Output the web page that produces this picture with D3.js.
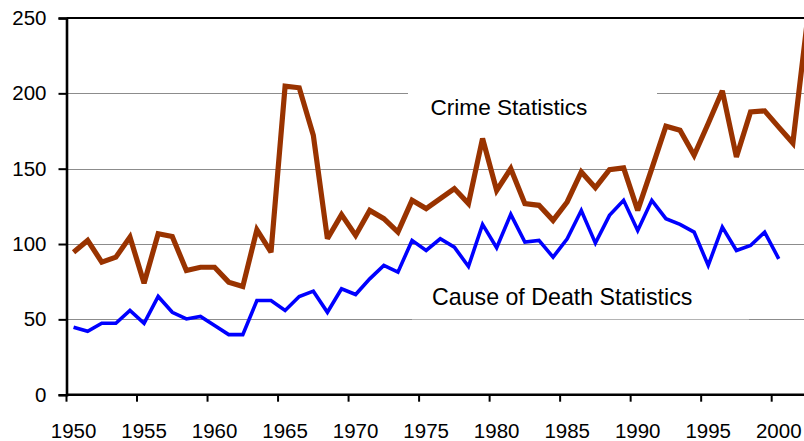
<!DOCTYPE html>
<html>
<head>
<meta charset="utf-8">
<script src="https://cdn.jsdelivr.net/npm/d3@7"></script>
<style>
  html, body { margin: 0; padding: 0; background: #fff; overflow: hidden; }
  svg { display: block; font-family: "Liberation Sans", Arial, sans-serif; }
</style>
</head>
<body>
<svg id="chart" width="804" height="441"></svg>
<script>
// ---- data ----
const crimeYears = d3.range(1950, 2003);
const crimeValues = [
  94.6, 102.4, 88, 91.3, 104.6, 74, 106.8, 105, 82.4, 84.6,
  84.6, 74.7, 71.8, 109.5, 94.6, 204.8, 203.7, 172.2, 103.5, 119.5,
  105.7, 122.3, 116.8, 107.9, 129, 123.5, 130.1, 136.8, 126.8, 170,
  135.6, 150, 126.8, 125.7, 115.7, 127.9, 147.8, 137.4, 149.4, 150.5,
  122.3, 150, 178.2, 175.5, 158.9, 180, 201.7, 157.8, 187.7, 188.4,
  177.6, 167, 246
];
const deathYears = d3.range(1950, 2001);
const deathValues = [
  44.8, 42.1, 47.4, 47.4, 55.9, 47.4, 65.2, 54.7, 50.3, 51.9,
  45.9, 39.9, 39.9, 62.5, 62.5, 55.9, 65.2, 68.7, 54.7, 70.3,
  66.5, 76.9, 85.8, 81.3, 102.4, 95.7, 103.5, 97.9, 85.1, 113,
  97.5, 119.7, 101.3, 102.4, 91.3, 103.5, 122.3, 100.6, 119, 129,
  109, 129, 116.8, 113, 107.9, 85.8, 111.2, 95.7, 99, 107.9,
  90.2
];
const yTicks = [0, 50, 100, 150, 200, 250];
const xTickLabels = [1950, 1955, 1960, 1965, 1970, 1975, 1980, 1985, 1990, 1995, 2000];
const seriesLabels = ["Crime Statistics", "Cause of Death Statistics"];

// ---- layout ----
const svg = d3.select("#chart");
const plotLeft = 66.5, plotRight = 814, plotTop = 18, plotBottom = 394.7;

const x = d3.scaleLinear().domain([1949.5, 2002.5]).range([plotLeft, plotRight]);
const y = d3.scaleLinear().domain([0, 250]).range([plotBottom, plotTop]);

// gridlines
svg.append("g").selectAll("line")
  .data(yTicks.filter(t => t > 0 && t < 250))
  .join("line")
  .attr("x1", plotLeft).attr("x2", 804)
  .attr("y1", d => Math.round(y(d)) + 0.5).attr("y2", d => Math.round(y(d)) + 0.5)
  .attr("stroke", "#8c8c8c").attr("stroke-width", 1.2);

// label boxes (white, covering gridlines)
svg.append("rect").attr("x", 408).attr("y", 78).attr("width", 249).attr("height", 50).attr("fill", "#fff");
svg.append("rect").attr("x", 412).attr("y", 270).attr("width", 337).attr("height", 49).attr("fill", "#fff");
svg.append("line").attr("x1", 412).attr("x2", 749).attr("y1", 319.5).attr("y2", 319.5)
  .attr("stroke", "#b4b4b4").attr("stroke-width", 1);

svg.append("text").attr("x", 430.5).attr("y", 114.5)
  .attr("font-size", 22.6).attr("fill", "#000").text(seriesLabels[0]);
svg.append("text").attr("x", 432).attr("y", 305)
  .attr("font-size", 23.2).attr("fill", "#000").text(seriesLabels[1]);

// lines
const line = d3.line().x(d => x(d[0])).y(d => y(d[1]));
svg.append("path")
  .datum(crimeYears.map((yr, i) => [yr, crimeValues[i]]))
  .attr("d", line).attr("fill", "none")
  .attr("stroke", "#993300").attr("stroke-width", 5.2)
  .attr("stroke-linejoin", "miter").attr("stroke-miterlimit", 3);
svg.append("path")
  .datum(deathYears.map((yr, i) => [yr, deathValues[i]]))
  .attr("d", line).attr("fill", "none")
  .attr("stroke", "#0000ff").attr("stroke-width", 3.6)
  .attr("stroke-linejoin", "miter").attr("stroke-miterlimit", 3);

// frame: top border
svg.append("line").attr("x1", plotLeft).attr("x2", 804).attr("y1", plotTop).attr("y2", plotTop)
  .attr("stroke", "#000").attr("stroke-width", 2.2);

// y axis
const yAxis = d3.axisLeft(y).tickValues(yTicks).tickSize(8).tickPadding(12).tickFormat(d3.format("d"));
const gy = svg.append("g").attr("transform", `translate(${plotLeft},0)`).call(yAxis);
gy.select(".domain").attr("stroke", "#000").attr("stroke-width", 2.6);
gy.selectAll(".tick line").attr("stroke", "#000").attr("stroke-width", 2);
gy.selectAll(".tick text").attr("font-size", 20.5).attr("fill", "#000")
  .attr("font-family", "'Liberation Sans', Arial, sans-serif");

// x axis: ticks between categories, labels centred on categories
const gx = svg.append("g").attr("transform", `translate(0,${plotBottom})`);
gx.append("line").attr("x1", plotLeft).attr("x2", 804).attr("y1", 0).attr("y2", 0)
  .attr("stroke", "#000").attr("stroke-width", 2.6);
gx.selectAll("line.tk").data(xTickLabels).join("line").attr("class", "tk")
  .attr("x1", d => x(d - 0.5)).attr("x2", d => x(d - 0.5))
  .attr("y1", 0).attr("y2", 7)
  .attr("stroke", "#000").attr("stroke-width", 2);
gx.selectAll("text").data(xTickLabels).join("text")
  .attr("x", d => x(d)).attr("y", 43)
  .attr("text-anchor", "middle").attr("font-size", 20.5).attr("fill", "#000")
  .text(d => d);
</script>
</body>
</html>
